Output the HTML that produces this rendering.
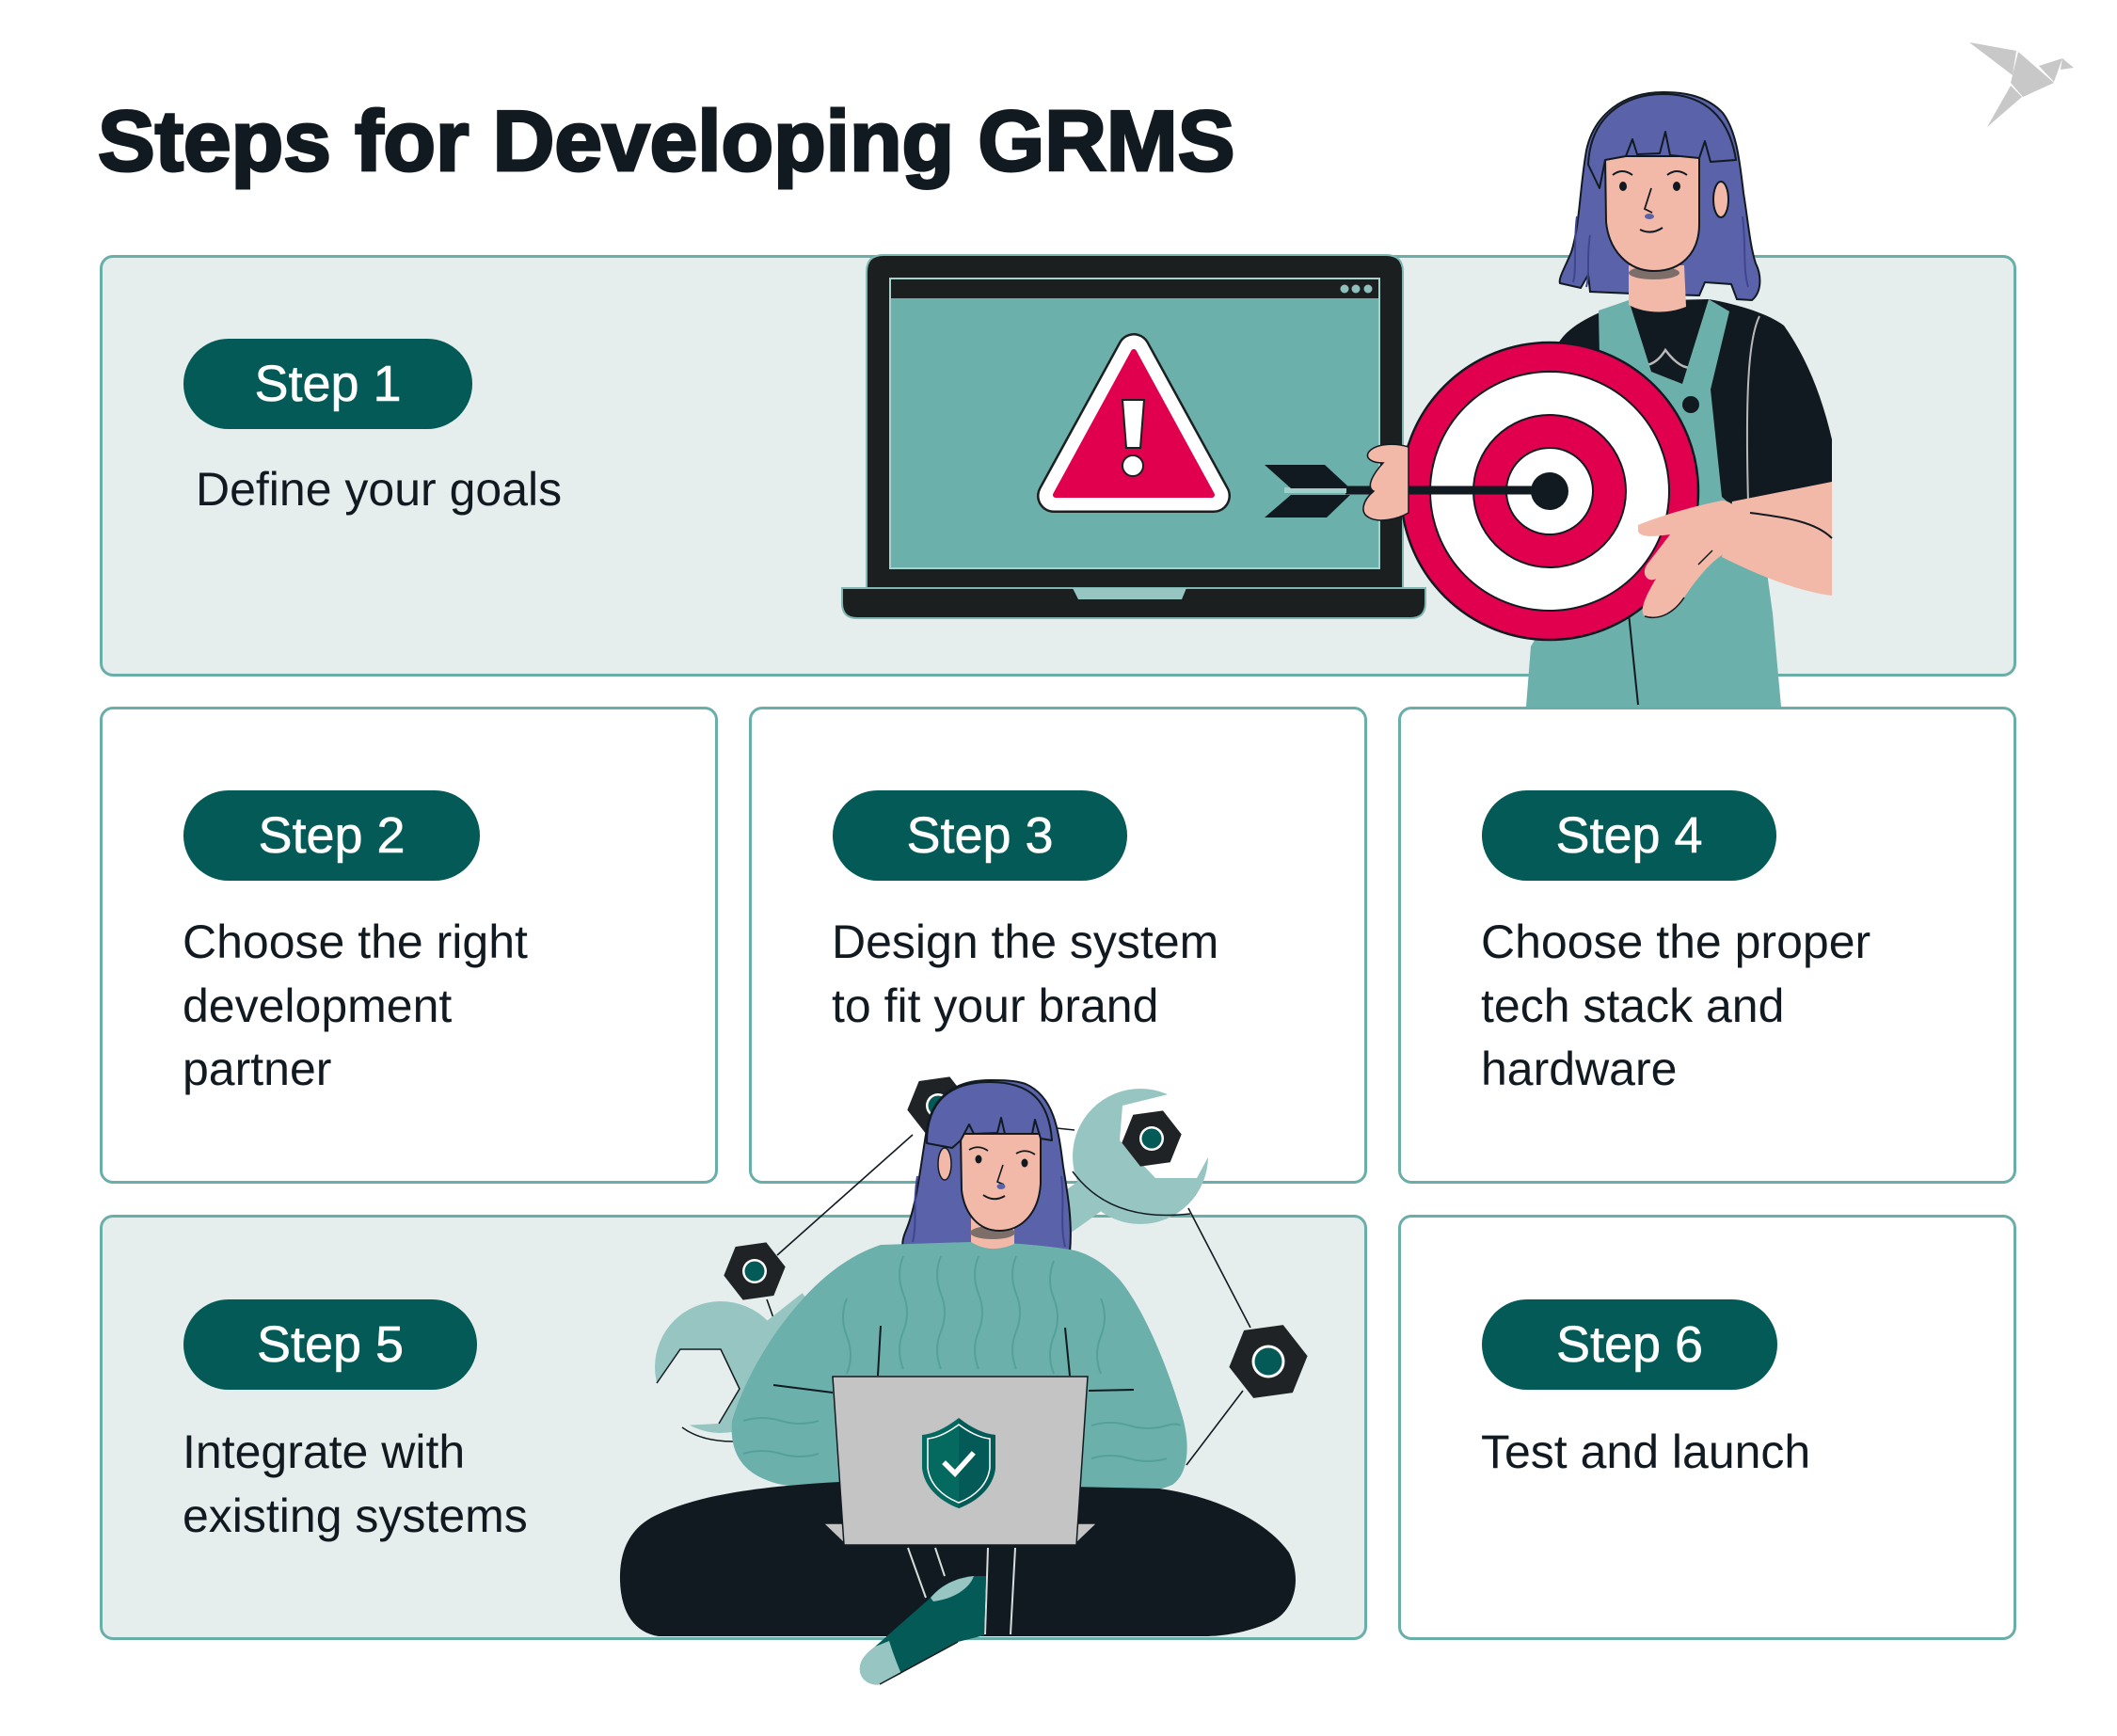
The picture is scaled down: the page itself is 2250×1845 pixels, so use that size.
<!DOCTYPE html>
<html><head><meta charset="utf-8">
<style>
html,body{margin:0;padding:0;background:#fff;}
body{width:2250px;height:1845px;position:relative;overflow:hidden;}
.card{position:absolute;box-sizing:border-box;border:3px solid #6aaea9;border-radius:14px;background:#fff;}
.lt{background:#e5eeed;}
.t{position:absolute;font:bold 91px/91px "Liberation Sans",sans-serif;color:#121a21;-webkit-text-stroke:3px #121a21;white-space:nowrap;}
.pill{position:absolute;height:96px;border-radius:48px;background:#045a56;color:#fff;font:54px/54px "Liberation Sans",sans-serif;display:flex;align-items:center;justify-content:center;-webkit-text-stroke:0.6px #fff;}
.b{position:absolute;font:50px/67.5px "Liberation Sans",sans-serif;color:#121a21;white-space:nowrap;}
svg{position:absolute;left:0;top:0;}
</style></head>
<body>
<div class="t" style="left:104px;top:105px">Steps for Developing GRMS</div>

<div class="card lt" style="left:106px;top:271px;width:2037px;height:448px"></div>
<div class="card" style="left:106px;top:751px;width:657px;height:507px"></div>
<div class="card" style="left:796px;top:751px;width:657px;height:507px"></div>
<div class="card" style="left:1486px;top:751px;width:657px;height:507px"></div>
<div class="card lt" style="left:106px;top:1291px;width:1347px;height:452px"></div>
<div class="card" style="left:1486px;top:1291px;width:657px;height:452px"></div>

<div class="pill" style="left:195px;top:360px;width:307px">Step 1</div>
<div class="pill" style="left:195px;top:840px;width:315px">Step 2</div>
<div class="pill" style="left:885px;top:840px;width:313px">Step 3</div>
<div class="pill" style="left:1575px;top:840px;width:313px">Step 4</div>
<div class="pill" style="left:195px;top:1381px;width:312px">Step 5</div>
<div class="pill" style="left:1575px;top:1381px;width:314px">Step 6</div>

<div class="b" style="left:208px;top:487px">Define your goals</div>
<div class="b" style="left:194px;top:968px">Choose the right<br>development<br>partner</div>
<div class="b" style="left:884px;top:968px">Design the system<br>to fit your brand</div>
<div class="b" style="left:1574px;top:968px">Choose the proper<br>tech stack and<br>hardware</div>
<div class="b" style="left:194px;top:1510px">Integrate with<br>existing systems</div>
<div class="b" style="left:1574px;top:1510px">Test and launch</div>

<svg width="2250" height="1845" viewBox="0 0 2250 1845">
<defs>
<mask id="mw1"><rect width="2250" height="1845" fill="#fff"/><polygon points="1193,1175 1262,1158 1300,1200 1272,1252 1228,1252 1190,1212" fill="#000"/></mask>
<mask id="mw2"><rect width="2250" height="1845" fill="#fff"/><polygon points="698,1470 723,1434 766,1434 786,1476 764,1513 725,1515 690,1532 640,1532 640,1476" fill="#000"/></mask>
<polygon id="hex" points="0.990,-0.139 0.616,0.788 -0.375,0.927 -0.990,0.139 -0.616,-0.788 0.375,-0.927"/>
</defs>

<!-- logo bird -->
<g fill="#c8c8c8">
<polygon points="2093,45 2143,54 2139,80"/>
<polygon points="2145,55 2183,88 2150,103 2137,88"/>
<polygon points="2167,70 2192,62 2183,87"/>
<polygon points="2192,62 2204,72 2190,74"/>
<polygon points="2137,91 2149,103 2112,135"/>
</g>

<!-- laptop top -->
<path d="M921,289 Q921,271 939,271 L1473,271 Q1491,271 1491,289 L1491,625 L921,625 Z" fill="#1b1f1f" stroke="#7fb8b3" stroke-width="2"/>
<rect x="946" y="296" width="520" height="308" fill="#6bb0ab" stroke="#a6d2ce" stroke-width="2"/>
<rect x="947" y="297" width="518" height="20" fill="#1b1f1f"/>
<circle cx="1429" cy="307" r="4.5" fill="#8fc0bb"/><circle cx="1441" cy="307" r="4.5" fill="#8fc0bb"/><circle cx="1454" cy="307" r="4.5" fill="#8fc0bb"/>
<path d="M895,625 L1515,625 L1515,641 Q1515,657 1499,657 L911,657 Q895,657 895,641 Z" fill="#1b1f1f" stroke="#7fb8b3" stroke-width="2"/>
<polygon points="1140,625 1261,625 1256,637 1146,637" fill="#97c6c2"/>

<!-- warning triangle -->
<polygon points="1205,372 1120,527 1290,527" fill="none" stroke="#1b1f1f" stroke-width="36" stroke-linejoin="round"/>
<polygon points="1205,372 1120,527 1290,527" fill="#fff" stroke="#fff" stroke-width="31" stroke-linejoin="round"/>
<polygon points="1205,374 1122,526 1288,526" fill="#e0004d" stroke="#e0004d" stroke-width="6" stroke-linejoin="round"/>
<polygon points="1193,425 1216,425 1212,476 1197,476" fill="#fff" stroke="#1b1f1f" stroke-width="2"/>
<circle cx="1204" cy="495" r="11" fill="#fff" stroke="#1b1f1f" stroke-width="2"/>

<!-- top woman -->
<path d="M1656,365 C1668,345 1695,333 1731,320 L1816,318 C1850,324 1880,334 1896,346 C1920,380 1936,420 1947,467 L1947,512 L1877,542 L1660,545 Z" fill="#121a21"/>
<path d="M1718,368 C1735,392 1755,396 1770,372 C1785,392 1800,398 1812,380" fill="none" stroke="#b9b9b9" stroke-width="2.5"/>
<path d="M1870,336 C1858,360 1855,420 1858,535" fill="none" stroke="#b9b9b9" stroke-width="2"/>
<path d="M1699,330 L1731,319 L1755,395 L1788,408 L1816,318 L1838,331 L1818,414 L1830,528 L1872,565 L1884,652 L1893,751 L1622,751 L1627,687 L1680,600 L1700,380 Z" fill="#6bb0ab"/>
<path d="M1731,652 L1741,749" stroke="#121a21" stroke-width="2" fill="none"/>
<circle cx="1797" cy="430" r="9" fill="#121a21"/>
<path d="M1768,98 C1725,98 1694,122 1686,160 C1679,200 1679,240 1670,268 C1663,285 1656,296 1658,301 L1680,306 L1688,292 L1690,310 L1735,312 L1806,314 L1812,300 L1840,302 L1846,318 L1862,319 C1873,310 1872,292 1866,280 C1860,262 1858,236 1853,205 C1849,172 1846,140 1831,120 C1816,104 1795,98 1768,98 Z" fill="#5a62aa" stroke="#121a21" stroke-width="2"/>
<path d="M1676,230 C1672,260 1676,285 1672,300 M1852,230 C1856,260 1852,285 1858,305 M1690,250 C1686,270 1690,290 1686,305" fill="none" stroke="#3f468f" stroke-width="2"/>
<path d="M1731,282 L1790,282 L1792,326 C1770,335 1745,332 1731,324 Z" fill="#f2b9a8"/>
<ellipse cx="1758" cy="290" rx="27" ry="7" fill="#7d6e69"/>
<path d="M1706,166 L1806,166 L1806,238 C1806,270 1786,288 1758,288 C1730,288 1710,266 1707,236 Z" fill="#f2b9a8" stroke="#121a21" stroke-width="2"/>
<ellipse cx="1829" cy="212" rx="8" ry="19" fill="#f2b9a8" stroke="#121a21" stroke-width="2"/>
<path d="M1688,175 C1690,125 1725,100 1768,100 C1812,100 1838,125 1845,170 L1818,172 L1812,150 L1806,168 L1775,165 L1770,140 L1764,163 L1740,164 L1735,148 L1728,166 L1706,170 L1700,200 Z" fill="#5a62aa" stroke="#121a21" stroke-width="2" stroke-linejoin="round"/>
<ellipse cx="1725" cy="198" rx="4" ry="5" fill="#121a21"/>
<ellipse cx="1782" cy="198" rx="4" ry="5" fill="#121a21"/>
<path d="M1714,186 Q1724,178 1735,186 M1772,186 Q1782,178 1793,186" fill="none" stroke="#121a21" stroke-width="2"/>
<path d="M1755,200 L1748,222 L1756,226" fill="none" stroke="#121a21" stroke-width="1.8"/>
<ellipse cx="1753" cy="230" rx="5" ry="3" fill="#5a62aa"/>
<path d="M1743,244 Q1755,250 1767,242" fill="none" stroke="#121a21" stroke-width="2"/>

<!-- target -->
<circle cx="1647" cy="522" r="158" fill="#e0004d" stroke="#121a21" stroke-width="2.5"/>
<circle cx="1647" cy="522" r="127" fill="#fff" stroke="#121a21" stroke-width="2"/>
<circle cx="1647" cy="522" r="81" fill="#e0004d" stroke="#121a21" stroke-width="2"/>
<circle cx="1647" cy="522" r="46" fill="#fff" stroke="#121a21" stroke-width="2"/>
<circle cx="1647" cy="522" r="20" fill="#121a21"/>
<!-- arrow -->
<line x1="1430" y1="521" x2="1640" y2="521" stroke="#121a21" stroke-width="9"/>
<rect x="1365" y="518" width="66" height="6" fill="#a3cfcb"/>
<polygon points="1344,494 1408,494 1435,519 1372,519" fill="#121a21"/>
<polygon points="1372,526 1435,526 1410,550 1344,550" fill="#121a21"/>
<!-- hands/arm -->
<path d="M1497,475 C1480,470 1462,472 1455,480 C1450,487 1458,492 1470,492 C1458,505 1452,518 1460,522 C1448,532 1445,545 1455,550 C1465,556 1485,552 1497,545 Z" fill="#f2b9a8" stroke="#121a21" stroke-width="1.5"/>
<path d="M1841,533 L1947,512 L1947,633 C1910,628 1870,612 1830,592 Z" fill="#f2b9a8"/>
<path d="M1860,545 C1900,550 1930,555 1947,572" fill="none" stroke="#121a21" stroke-width="2"/>
<path d="M1741,558 C1765,548 1800,538 1830,532 C1840,532 1848,540 1845,555 L1830,590 C1815,600 1800,620 1790,635 C1780,650 1765,660 1748,655 C1742,650 1748,635 1760,615 C1752,620 1742,610 1752,598 L1775,568 C1760,570 1745,572 1741,565 Z" fill="#f2b9a8"/>
<path d="M1790,635 C1780,650 1765,660 1748,655 M1805,600 L1820,585" fill="none" stroke="#121a21" stroke-width="1.5"/>

<!-- bottom: connection lines -->
<g stroke="#121a21" stroke-width="1.6" fill="none">
<path d="M826,1334 L970,1206"/>
<path d="M815,1381 L830,1423"/>
<path d="M1123,1199 L1142,1201"/>
<path d="M1263,1284 L1329,1411"/>
<path d="M1321,1478 L1261,1557"/>
</g>

<!-- wrenches -->
<line x1="1195" y1="1245" x2="1125" y2="1295" stroke="#97c6c2" stroke-width="40"/>
<circle cx="1212" cy="1229" r="72" fill="#97c6c2" mask="url(#mw1)"/>
<path d="M1140,1245 Q1180,1300 1265,1290" fill="none" stroke="#121a21" stroke-width="1.5"/>
<line x1="795" y1="1445" x2="865" y2="1390" stroke="#97c6c2" stroke-width="40"/>
<circle cx="766" cy="1453" r="70" fill="#97c6c2" mask="url(#mw2)"/>
<polyline points="698,1470 723,1434 766,1434 786,1476 764,1513" fill="none" stroke="#121a21" stroke-width="1.5"/>
<path d="M725,1517 Q745,1532 780,1532" fill="none" stroke="#121a21" stroke-width="1.5"/>

<!-- nuts -->
<g fill="#1f2326">
<use href="#hex" transform="translate(997,1175) scale(33)"/>
<use href="#hex" transform="translate(802,1351) scale(33)"/>
<use href="#hex" transform="translate(1224,1210) scale(32)"/>
<use href="#hex" transform="translate(1348,1447) scale(42)"/>
</g>
<g fill="#fff"><circle cx="997" cy="1175" r="13"/><circle cx="802" cy="1351" r="13"/><circle cx="1224" cy="1210" r="13"/><circle cx="1348" cy="1447" r="17.5"/></g>
<g fill="#045a56"><circle cx="997" cy="1175" r="10.5"/><circle cx="802" cy="1351" r="10.5"/><circle cx="1224" cy="1210" r="10.5"/><circle cx="1348" cy="1447" r="14.5"/></g>

<!-- bottom woman hair back -->
<path d="M1052,1148 C1010,1148 990,1170 985,1200 C978,1240 975,1280 962,1310 C958,1320 958,1330 965,1332 L990,1330 L995,1335 L1010,1328 L1030,1330 L1110,1332 L1137,1331 C1140,1300 1135,1270 1130,1240 C1125,1200 1120,1165 1090,1152 C1078,1148 1065,1148 1052,1148 Z" fill="#5a62aa" stroke="#121a21" stroke-width="2"/>
<path d="M975,1250 C970,1280 975,1300 970,1320 M1128,1250 C1132,1280 1126,1300 1132,1325" fill="none" stroke="#3f468f" stroke-width="2"/>

<!-- sweater -->
<path d="M936,1323 C900,1335 870,1360 845,1390 C815,1425 790,1470 778,1510 C775,1545 790,1565 820,1575 C850,1585 900,1580 960,1575 L1110,1575 C1160,1590 1215,1592 1246,1578 C1265,1565 1265,1530 1255,1500 C1240,1450 1215,1390 1190,1360 C1170,1338 1150,1330 1137,1328 C1100,1322 1060,1320 1030,1320 Z" fill="#6bb0ab"/>
<g fill="none" stroke="#4f9d97" stroke-width="2" opacity="0.8">
<path d="M960,1335 q-8,20 0,40 q8,20 0,40 q-8,20 0,40"/>
<path d="M1000,1335 q-8,20 0,40 q8,20 0,40 q-8,20 0,40"/>
<path d="M1040,1335 q-8,20 0,40 q8,20 0,40 q-8,20 0,40"/>
<path d="M1080,1335 q-8,20 0,40 q8,20 0,40 q-8,20 0,40"/>
<path d="M1120,1340 q-8,20 0,40 q8,20 0,40 q-8,20 0,40"/>
<path d="M900,1380 q-8,20 0,40 q8,20 0,40"/>
<path d="M1170,1380 q8,20 0,40 q-8,20 0,40"/>
<path d="M790,1510 q20,-6 40,0 q20,6 40,0"/>
<path d="M790,1545 q20,-6 40,0 q20,6 40,0"/>
<path d="M1160,1515 q20,-6 40,0 q20,6 40,0 q10,-3 15,0"/>
<path d="M1160,1550 q20,-6 40,0 q20,6 40,0"/>
</g>
<g fill="none" stroke="#121a21" stroke-width="2">
<path d="M936,1409 L933,1462"/>
<path d="M1132,1411 L1137,1462"/>
<path d="M822,1472 L885,1480"/>
<path d="M1157,1478 L1205,1477"/>
</g>

<!-- face -->
<path d="M1032,1292 L1078,1292 L1078,1322 C1060,1330 1045,1328 1032,1320 Z" fill="#f2b9a8"/>
<ellipse cx="1055" cy="1310" rx="24" ry="7" fill="#7d6e69"/>
<path d="M1021,1205 L1106,1205 L1106,1258 C1104,1290 1085,1308 1062,1308 C1040,1308 1025,1290 1022,1265 Z" fill="#f2b9a8" stroke="#121a21" stroke-width="2"/>
<ellipse cx="1004" cy="1237" rx="7" ry="17" fill="#f2b9a8" stroke="#121a21" stroke-width="1.5"/>
<path d="M985,1215 C985,1170 1010,1150 1052,1150 C1095,1150 1115,1170 1118,1212 L1106,1210 L1100,1190 L1097,1205 L1068,1205 L1064,1188 L1060,1204 L1035,1205 L1030,1195 L1021,1212 L1012,1220 Z" fill="#5a62aa" stroke="#121a21" stroke-width="2" stroke-linejoin="round"/>
<ellipse cx="1040" cy="1232" rx="3.5" ry="4.5" fill="#121a21"/>
<ellipse cx="1089" cy="1236" rx="3.5" ry="4.5" fill="#121a21"/>
<path d="M1030,1222 Q1040,1216 1050,1223 M1080,1226 Q1090,1220 1100,1227" fill="none" stroke="#121a21" stroke-width="1.8"/>
<path d="M1066,1238 L1060,1256 L1067,1259" fill="none" stroke="#121a21" stroke-width="1.6"/>
<ellipse cx="1064" cy="1261" rx="4.5" ry="3" fill="#5a62aa"/>
<path d="M1045,1270 Q1056,1278 1068,1271" fill="none" stroke="#121a21" stroke-width="2"/>

<!-- legs -->
<path d="M698,1610 C740,1590 800,1580 892,1575 L1232,1582 C1290,1590 1345,1615 1370,1650 C1385,1680 1375,1715 1348,1725 C1325,1735 1300,1739 1280,1739 L700,1739 C675,1735 660,1715 659,1680 C658,1645 672,1622 698,1610 Z" fill="#121a21"/>
<g stroke="#d8dede" stroke-width="2" fill="none">
<path d="M965,1645 L984,1698"/>
<path d="M994,1645 L1004,1675"/>
<path d="M1050,1645 L1047,1737"/>
<path d="M1079,1645 L1074,1737"/>
</g>
<!-- sock -->
<path d="M989,1698 C1000,1685 1015,1677 1035,1675 L1048,1675 L1046,1738 L1018,1745 L935,1790 C925,1792 915,1785 914,1776 C913,1765 920,1758 930,1750 Z" fill="#045a56"/>
<path d="M914,1776 C913,1765 920,1758 930,1750 L945,1744 C950,1760 955,1772 958,1779 L935,1790 C925,1792 915,1785 914,1776 Z" fill="#97c6c2"/>
<path d="M989,1698 C1000,1685 1015,1677 1035,1675 C1030,1690 1010,1700 992,1702 Z" fill="#97c6c2"/>
<path d="M935,1790 L1018,1745" fill="none" stroke="#121a21" stroke-width="1.5"/>

<!-- laptop bottom -->
<polygon points="875,1619 897,1619 899,1642" fill="#c4c4c4" stroke="#121a21" stroke-width="1.5"/>
<polygon points="1166,1619 1143,1619 1142,1642" fill="#c4c4c4" stroke="#121a21" stroke-width="1.5"/>
<polygon points="885,1463 1156,1463 1144,1642 897,1642" fill="#c4c4c4" stroke="#121a21" stroke-width="1.5"/>
<path d="M1019,1507 C1005,1518 992,1524 980,1525 L980,1560 C982,1580 998,1595 1019,1603 C1040,1595 1056,1580 1058,1560 L1058,1525 C1046,1524 1033,1518 1019,1507 Z" fill="#04695f"/>
<path d="M1019,1507 C1033,1518 1046,1524 1058,1525 L1058,1560 C1056,1580 1040,1595 1019,1603 Z" fill="#045a56"/>
<path d="M1019,1514 C1007,1523 996,1528 986,1529 L986,1560 C988,1577 1001,1590 1019,1597 C1037,1590 1050,1577 1052,1560 L1052,1529 C1042,1528 1031,1523 1019,1514 Z" fill="none" stroke="#fff" stroke-width="1.5"/>
<polyline points="1005,1556 1015,1566 1033,1546" fill="none" stroke="#fff" stroke-width="5.5" stroke-linecap="square"/>
</svg>
</body></html>
